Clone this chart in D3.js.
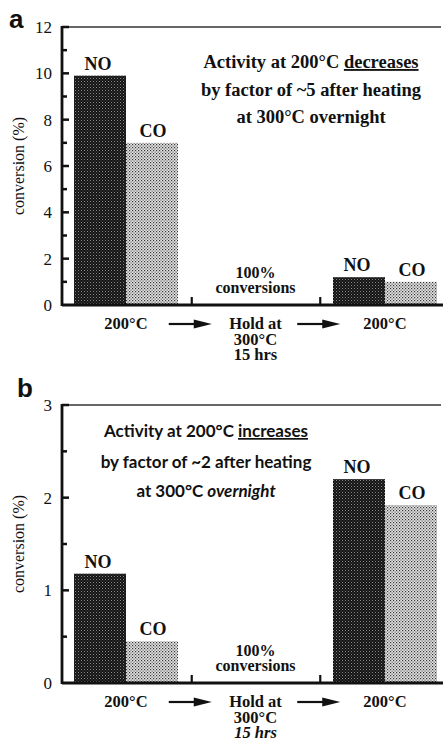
<!DOCTYPE html>
<html>
<head>
<meta charset="utf-8">
<script src="https://cdn.jsdelivr.net/npm/d3@7"></script>
<style>
  body { margin: 0; background: #fff; }
  svg { display: block; }
</style>
</head>
<body>
<svg width="443" height="742" font-family="Liberation Serif, Times New Roman, serif" fill="#111"></svg>
<script>
// categories along the x axis
const steps = ["before", "hold", "after"];
const stepLabels = [["200°C"], ["Hold at", "300°C", "15 hrs"], ["200°C"]];
const gases = ["NO", "CO"];

// panel a values (conversion %), null = 100% conversion, no bar
const aNO = [9.9, null, 1.2];
const aCO = [7.0, null, 1.0];
const aTicks = [0, 2, 4, 6, 8, 10, 12];
const aMinor = [1, 3, 5, 7, 9, 11];

// panel b values
const bNO = [1.18, null, 2.2];
const bCO = [0.45, null, 1.92];
const bTicks = [0, 1, 2, 3];
const bMinor = [0.5, 1.5, 2.5];

const svg = d3.select("svg");

// stipple patterns for the two gases
const defs = svg.append("defs");
const pNO = defs.append("pattern").attr("id", "patNO")
  .attr("width", 3).attr("height", 3).attr("patternUnits", "userSpaceOnUse");
pNO.append("rect").attr("width", 3).attr("height", 3).attr("fill", "#141414");
pNO.append("rect").attr("x", 0).attr("y", 0).attr("width", 1).attr("height", 1).attr("fill", "#8a8a8a");
pNO.append("rect").attr("x", 1.5).attr("y", 1.5).attr("width", 1).attr("height", 1).attr("fill", "#555");

const pCO = defs.append("pattern").attr("id", "patCO")
  .attr("width", 3).attr("height", 3).attr("patternUnits", "userSpaceOnUse");
pCO.append("rect").attr("width", 3).attr("height", 3).attr("fill", "#e4e4e4");
pCO.append("rect").attr("x", 0).attr("y", 0).attr("width", 1.2).attr("height", 1.2).attr("fill", "#333");
pCO.append("rect").attr("x", 1.5).attr("y", 1.5).attr("width", 1.2).attr("height", 1.2).attr("fill", "#555");

const xStep = d3.scalePoint().domain(steps).range([126, 385]);
const xGas = d3.scaleBand().domain(gases).range([-52, 52]);

function drawPanel(o) {
  const y = d3.scaleLinear().domain([0, o.max]).range([o.bottom, o.top]);
  const g = svg.append("g");
  const x0 = 62, x1 = 443;

  // top frame line
  g.append("line").attr("x1", x0).attr("x2", x1 - 2).attr("y1", o.top).attr("y2", o.top)
    .attr("stroke", "#333").attr("stroke-width", 1.6);

  // bars
  const rows = [];
  steps.forEach((s, i) => {
    if (o.no[i] != null) rows.push({ step: s, gas: "NO", v: o.no[i] });
    if (o.co[i] != null) rows.push({ step: s, gas: "CO", v: o.co[i] });
  });
  g.selectAll("rect.bar").data(rows).enter().append("rect")
    .attr("class", "bar")
    .attr("x", d => xStep(d.step) + xGas(d.gas))
    .attr("width", xGas.bandwidth())
    .attr("y", d => y(d.v))
    .attr("height", d => o.bottom - y(d.v))
    .attr("fill", d => d.gas == "NO" ? "url(#patNO)" : "url(#patCO)");

  g.selectAll("text.gas").data(rows).enter().append("text")
    .attr("class", "gas")
    .attr("x", d => xStep(d.step) + xGas(d.gas) + xGas.bandwidth() / 2 + (d.gas == "NO" ? -2 : 1))
    .attr("y", d => y(d.v) - 6)
    .attr("text-anchor", "middle")
    .attr("font-weight", "bold").attr("font-size", 18)
    .text(d => d.gas);

  // y axis
  const yAxis = d3.axisLeft(y).tickValues(o.ticks).tickSize(0).tickPadding(10).tickFormat(d3.format("d"));
  const ax = g.append("g").attr("transform", `translate(${x0},0)`).call(yAxis);
  ax.select(".domain").remove();
  ax.attr("font-family", null).attr("font-size", 17);
  ax.selectAll("text").attr("fill", "#111");
  g.selectAll("line.maj").data(o.ticks.filter(t => t > 0)).enter().append("line")
    .attr("x1", x0).attr("x2", x0 + 7).attr("y1", d => y(d)).attr("y2", d => y(d))
    .attr("stroke", "#111").attr("stroke-width", 2.5);
  g.selectAll("line.min").data(o.minor).enter().append("line")
    .attr("x1", x0).attr("x2", x0 + 5).attr("y1", d => y(d)).attr("y2", d => y(d))
    .attr("stroke", "#111").attr("stroke-width", 2.5);
  g.append("line").attr("x1", x0).attr("x2", x0).attr("y1", o.top - 1).attr("y2", o.bottom + 1)
    .attr("stroke", "#111").attr("stroke-width", 2.8);
  g.append("line").attr("x1", x0).attr("x2", x1).attr("y1", o.bottom).attr("y2", o.bottom)
    .attr("stroke", "#111").attr("stroke-width", 2.8);

  // small ticks between steps
  const mids = [(xStep(steps[0]) + xStep(steps[1])) / 2 + 1, (xStep(steps[1]) + xStep(steps[2])) / 2];
  g.selectAll("line.sep").data(mids).enter().append("line")
    .attr("x1", d => d).attr("x2", d => d).attr("y1", o.bottom).attr("y2", o.bottom - 8)
    .attr("stroke", "#111").attr("stroke-width", 2.2);

  // y label
  g.append("text")
    .attr("transform", `translate(24,${(o.top + o.bottom) / 2}) rotate(-90)`)
    .attr("text-anchor", "middle").attr("font-size", 16)
    .text("conversion (%)");

  // panel letter
  g.append("text").attr("x", o.letterX).attr("y", o.letterY)
    .attr("font-family", "Liberation Sans, Arial, sans-serif").attr("font-weight", "bold")
    .attr("font-size", 26).text(o.letter);

  // "100% conversions" in the hold step
  const hx = xStep("hold");
  const hold = g.append("text").attr("text-anchor", "middle")
    .attr("font-weight", "bold").attr("font-size", 16);
  hold.append("tspan").attr("x", hx).attr("y", o.bottom - 27).text("100%");
  hold.append("tspan").attr("x", hx).attr("y", o.bottom - 12).text("conversions");

  // x labels, one text per step, lines as tspans
  steps.forEach((s, i) => {
    const t = g.append("text").attr("text-anchor", "middle")
      .attr("font-weight", "bold").attr("font-size", 16.5);
    stepLabels[i].forEach((line, j) => {
      t.append("tspan").attr("x", xStep(s)).attr("y", o.bottom + 24 + j * 15.5)
        .attr("font-style", (o.italicHrs && line == "15 hrs") ? "italic" : "normal")
        .text(line);
    });
  });

  // arrows between steps
  mids.forEach(m => {
    const ay = o.bottom + 19;
    g.append("line").attr("x1", m - 23).attr("x2", m + 8).attr("y1", ay).attr("y2", ay)
      .attr("stroke", "#111").attr("stroke-width", 2.2);
    g.append("path").attr("d", `M${m + 20},${ay} L${m + 2},${ay - 4.5} L${m + 2},${ay + 4.5} Z`)
      .attr("fill", "#111");
  });

  // annotation
  const ann = g.append("text").attr("text-anchor", "middle").attr("font-weight", "bold")
    .attr("font-size", o.annSize).attr("font-family", o.annFont);
  o.ann.forEach((line, j) => {
    const t = ann.append("tspan").attr("x", o.annX).attr("y", o.annY[j]);
    line.forEach(part => {
      const sp = t.append("tspan").text(part.t);
      if (part.u) sp.style("text-decoration", "underline");
      if (part.i) sp.attr("font-style", "italic");
    });
  });
}

drawPanel({
  letter: "a", letterX: 9, letterY: 28,
  top: 27, bottom: 305, max: 12, ticks: aTicks, minor: aMinor,
  no: aNO, co: aCO, italicHrs: false,
  annX: 311, annY: [68, 96, 123], annSize: 18.5, annFont: "Liberation Serif, serif",
  ann: [
    [{ t: "Activity at 200°C " }, { t: "decreases", u: true }],
    [{ t: "by factor of ~5 after heating" }],
    [{ t: "at 300°C overnight" }]
  ]
});

drawPanel({
  letter: "b", letterX: 17, letterY: 397,
  top: 405, bottom: 683, max: 3, ticks: bTicks, minor: bMinor,
  no: bNO, co: bCO, italicHrs: true,
  annX: 206, annY: [437, 468, 497], annSize: 17, annFont: "Lato, sans-serif",
  ann: [
    [{ t: "Activity at 200°C " }, { t: "increases", u: true }],
    [{ t: "by factor of ~2 after heating" }],
    [{ t: "at 300°C " }, { t: "overnight", i: true }]
  ]
});
</script>
</body>
</html>
